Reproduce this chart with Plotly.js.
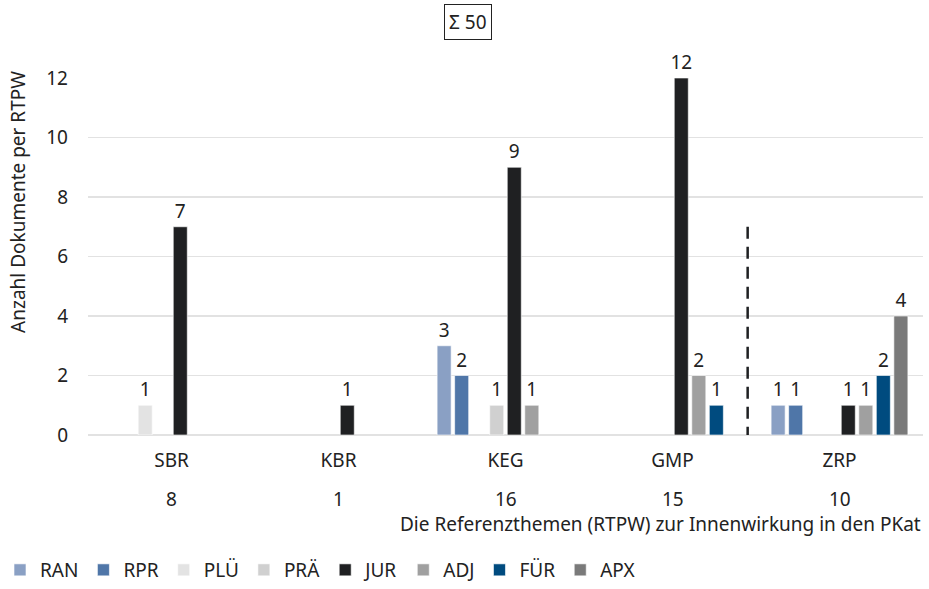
<!DOCTYPE html>
<html><head><meta charset="utf-8">
<script src="https://cdn.plot.ly/plotly-3.0.1.min.js"></script>
<style>body{margin:0;background:#fff}#c{width:929px;height:589px}</style>
</head><body><div id="c"></div>
<script>
const categories = ['SBR','KBR','KEG','GMP','ZRP'];
const categoryTotals = ['8','1','16','15','10'];
const seriesNames = ['RAN','RPR','PLÜ','PRÄ','JUR','ADJ','FÜR','APX'];
const RAN = [null,null,3,null,1];
const RPR = [null,null,2,null,1];
const PLU = [1,null,null,null,null];
const PRA = [null,null,1,null,null];
const JUR = [7,1,9,12,1];
const ADJ = [null,null,1,2,1];
const FUR = [null,null,null,1,2];
const APX = [null,null,null,null,4];
const totalLabel = 'Σ 50';
const colors = ['#8aa0c4','#4f76a8','#e3e3e3','#d0d0d0','#1f2022','#a0a0a0','#004b7f','#7a7a7a'];
const values = [RAN,RPR,PLU,PRA,JUR,ADJ,FUR,APX];
const F = 'Noto Sans, Open Sans, sans-serif';
const C = '#222';
const traces = values.map((v,i)=>({
  type:'bar', name:seriesNames[i], x:categories, y:v,
  marker:{color:colors[i], line:{color:'rgba(255,255,255,0.6)', width:1}},
  texttemplate:'%{y}', textposition:'outside', cliponaxis:false, constraintext:'none',
  textfont:{family:F,size:19,color:C}
}));
const annotations = categoryTotals.map((t,i)=>({
  x:categories[i], y:-0.178, xref:'x', yref:'paper', text:t, showarrow:false,
  font:{family:F,size:19,color:C}, yanchor:'middle'
}));
annotations.push({x:1,y:-0.249,xref:'paper',yref:'paper',xanchor:'right',yanchor:'middle',
  text:'Die Referenzthemen (RTPW) zur Innenwirkung in den PKat',showarrow:false,
  font:{family:F,size:19,color:C}});
annotations.push({x:0.4545,y:1.1575,xref:'paper',yref:'paper',xanchor:'center',yanchor:'middle',
  text:totalLabel,showarrow:false,bordercolor:C,borderwidth:1,borderpad:4,
  bgcolor:'#fff',font:{family:F,size:19,color:C}});
annotations.push({x:-0.0838,y:0.653,xref:'paper',yref:'paper',xanchor:'center',yanchor:'middle',
  text:'Anzahl Dokumente per RTPW',textangle:-90,showarrow:false,
  font:{family:F,size:19,color:C}});
Plotly.newPlot('c', traces, {
  width:929, height:589,
  margin:{l:88,r:6,t:78,b:154, autoexpand:false},
  paper_bgcolor:'#fff', plot_bgcolor:'#fff',
  barmode:'group', bargap:0.16, bargroupgap:0.2,
  font:{family:F,size:19,color:C},
  xaxis:{showgrid:false, showline:false, zeroline:false, ticks:'', ticklabelstandoff:12,
    tickfont:{family:F,size:19,color:C}},
  yaxis:{range:[0,12], dtick:2, showgrid:true, gridcolor:'#e2e2e2', gridwidth:1.5,
    zeroline:true, zerolinecolor:'#e2e2e2', zerolinewidth:1.5, showline:false, ticks:'',
    ticklabelstandoff:19,
    tickfont:{family:F,size:19,color:C}},
  legend:{orientation:'h', xref:'container', yref:'container', x:0, y:-0.008, xanchor:'left', yanchor:'bottom',
    font:{family:F,size:19,color:C}, tracegroupgap:0},
  shapes:[{type:'line', xref:'x', yref:'y', x0:3.45, x1:3.45, y0:7, y1:-2.2,
    line:{color:'#1f2022', width:2.5, dash:'12px,8px'}}],
  annotations:annotations
}, {displayModeBar:false, staticPlot:true});
</script></body></html>
